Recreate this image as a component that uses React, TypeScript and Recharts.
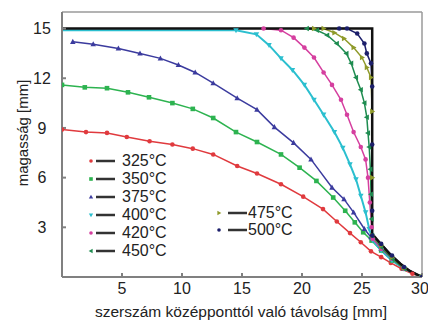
import React from "react";
import { LineChart, Line, XAxis, YAxis, ReferenceLine, Label } from "recharts";

const FONT = '"Liberation Sans", Arial, Helvetica, sans-serif';

type Pt = [number, number];

// [távolság mm, magasság mm]
const t325: Pt[] = [
  [0, 8.9], [2, 8.75], [3.75, 8.7], [5.4, 8.45], [7.3, 8.2], [9.2, 8.0], [10.9, 7.75],
  [12.6, 7.4], [14.6, 6.7], [16.25, 6.25], [18.25, 5.6], [20.1, 4.85], [21.75, 4.1],
  [22.9, 3.35], [24, 2.65], [24.9, 2.1], [25.75, 1.55], [26.6, 1.2], [27.4, 0.85],
  [28.3, 0.5], [29.2, 0.2], [30, 0],
];
const t350: Pt[] = [
  [0, 11.6], [1.9, 11.45], [3.75, 11.4], [5.5, 11.15], [7.25, 10.85], [9.2, 10.5],
  [10.9, 10.15], [12.6, 9.6], [14.5, 8.75], [16.25, 8.15], [18.25, 7.4], [19.8, 6.6],
  [21.2, 5.8], [22.6, 4.8], [23.6, 4.0], [24.4, 3.3], [25.1, 2.7], [25.8, 2.2],
  [26.6, 1.6], [27.5, 1.0], [28.5, 0.5], [30, 0],
];
const t375: Pt[] = [
  [0.9, 14.2], [2.6, 14.05], [4.7, 13.8], [6.5, 13.5], [8.2, 13.2], [9.7, 12.8],
  [11.1, 12.35], [12.6, 11.7], [14.6, 10.8], [16.25, 10.1], [17.7, 9.05], [19.3, 8.1],
  [20.75, 7.1], [22.5, 5.4], [23.5, 4.7], [24.3, 3.9], [25.2, 2.9], [25.75, 2.4],
  [26.6, 1.7], [27.5, 1.1], [28.5, 0.5], [30, 0],
];
const t400: Pt[] = [
  [0, 14.9], [14.5, 14.9], [16.2, 14.65], [17.25, 14.0], [18.25, 13.2], [19.2, 12.5],
  [20.2, 11.6], [21, 10.7], [21.8, 9.8], [22.7, 8.75], [23.4, 7.8], [24.0, 6.8],
  [24.5, 5.9], [24.9, 4.9], [25.3, 3.9], [25.6, 2.9], [25.9, 2.2], [26.6, 1.6],
  [27.5, 1.0], [28.5, 0.5], [30, 0],
];
const t420: Pt[] = [
  [16.8, 15], [18.25, 14.9], [19.3, 14.45], [20.2, 13.85], [21, 13.25], [21.8, 12.35],
  [22.5, 11.6], [23.25, 10.7], [23.75, 9.8], [24.3, 8.75], [24.9, 7.85], [25.3, 7.1],
  [25.5, 6.0], [25.65, 4.5], [25.8, 3.0], [25.9, 2.3], [26.6, 1.7], [27.5, 1.1],
  [28.5, 0.5], [30, 0],
];
const t450: Pt[] = [
  [20.4, 15], [21.25, 14.9], [22.1, 14.6], [22.9, 14.1], [23.7, 13.5], [24.1, 12.9],
  [24.5, 12.05], [24.9, 11.3], [25.2, 10.5], [25.4, 9.65], [25.5, 8.7], [25.6, 7.85],
  [25.7, 6.5], [25.75, 5.0], [25.8, 3.5], [25.85, 2.5], [26.6, 1.8], [27.5, 1.1],
  [28.5, 0.5], [30, 0],
];
const t475: Pt[] = [
  [21, 15], [21.8, 15], [22.7, 14.75], [23.5, 14.4], [24.3, 13.85], [25, 13.25],
  [25.4, 12.65], [25.75, 12.05], [25.85, 10], [25.85, 6], [25.85, 2.5], [26.6, 1.9],
  [27.5, 1.2], [28.5, 0.55], [30, 0],
];
const t500: Pt[] = [
  [23.1, 15], [23.75, 15], [24.6, 14.7], [25.2, 14.1], [25.4, 13.5], [25.75, 12.9],
  [25.85, 11.5], [25.85, 8], [25.85, 4], [25.85, 2.5], [26.6, 2.0], [27.5, 1.3],
  [28.5, 0.6], [30, 0],
];
// szerszám kontúr
const tool: Pt[] = [
  [0, 15], [25.85, 15], [25.85, 2.6], [26.5, 2.05], [27.3, 1.4], [28.2, 0.8], [29, 0.35], [30, 0],
];

const xTicks = [5, 10, 15, 20, 25, 30];
const yTicks = [3, 6, 9, 12, 15];

type Shape = "circle" | "square" | "up" | "down" | "left" | "right";

const SERIES: { name: string; pts: Pt[]; color: string; shape: Shape; skipFirst?: boolean }[] = [
  { name: "325°C", pts: t325, color: "#e03a3e", shape: "circle" },
  { name: "350°C", pts: t350, color: "#2db350", shape: "square" },
  { name: "375°C", pts: t375, color: "#3b3b9e", shape: "up" },
  { name: "400°C", pts: t400, color: "#2bbfcf", shape: "down", skipFirst: true },
  { name: "420°C", pts: t420, color: "#d53f9f", shape: "circle" },
  { name: "450°C", pts: t450, color: "#1e8c50", shape: "left" },
  { name: "475°C", pts: t475, color: "#8f9a2a", shape: "right" },
  { name: "500°C", pts: t500, color: "#1c1f6b", shape: "circle" },
];

const toRows = (pts: Pt[]) => pts.map(([x, y]) => ({ x, y }));

function Marker({ shape, cx, cy, r, color }: { shape: Shape; cx: number; cy: number; r: number; color: string }) {
  switch (shape) {
    case "circle":
      return <circle cx={cx} cy={cy} r={r} fill={color} />;
    case "square":
      return <rect x={cx - r} y={cy - r} width={2 * r} height={2 * r} fill={color} />;
    case "up":
      return <polygon points={`${cx},${cy - r * 1.3} ${cx - r * 1.2},${cy + r * 0.9} ${cx + r * 1.2},${cy + r * 0.9}`} fill={color} />;
    case "down":
      return <polygon points={`${cx},${cy + r * 1.3} ${cx - r * 1.2},${cy - r * 0.9} ${cx + r * 1.2},${cy - r * 0.9}`} fill={color} />;
    case "left":
      return <polygon points={`${cx - r * 1.3},${cy} ${cx + r * 0.9},${cy - r * 1.2} ${cx + r * 0.9},${cy + r * 1.2}`} fill={color} />;
    default:
      return <polygon points={`${cx + r * 1.3},${cy} ${cx - r * 0.9},${cy - r * 1.2} ${cx - r * 0.9},${cy + r * 1.2}`} fill={color} />;
  }
}

function LegendRow({ s, dashFrom, dashTo, width }: { s: (typeof SERIES)[number]; dashFrom: number; dashTo: number; width: number }) {
  return (
    <div style={{ display: "flex", alignItems: "center", height: 18 }}>
      <svg width={width} height={18}>
        <Marker shape={s.shape} cx={5} cy={9} r={1.8} color={s.color} />
        <line x1={dashFrom} x2={dashTo} y1={9} y2={9} stroke="#333" strokeWidth={2.5} />
      </svg>
      <span style={{ fontFamily: FONT, fontSize: 16, color: "#222", lineHeight: "18px" }}>{s.name}</span>
    </div>
  );
}

export default function App() {
  return (
    <div style={{ position: "absolute", left: 0, top: 0, width: 428, height: 320, background: "#fff" }}>
      <LineChart width={428} height={320} margin={{ top: 12, right: 6, bottom: 0, left: 0 }}>
        <XAxis
          type="number"
          dataKey="x"
          domain={[0, 30]}
          ticks={xTicks}
          allowDataOverflow
          height={43}
          tickSize={-4}
          tickMargin={10}
          stroke="#808080"
          strokeWidth={2}
          tick={{ fill: "#222", fontSize: 16, fontFamily: FONT }}
        >
          <Label
            content={() => (
              <text x={241} y={317} textAnchor="middle" fontSize={15.5} fontFamily={FONT} fill="#222">
                szerszám középponttól való távolság [mm]
              </text>
            )}
          />
        </XAxis>
        <YAxis
          type="number"
          dataKey="y"
          domain={[0, 16]}
          ticks={yTicks}
          allowDataOverflow
          width={62}
          tickSize={-4}
          tickMargin={24}
          stroke="#808080"
          strokeWidth={2}
          tick={{ fill: "#222", fontSize: 16, fontFamily: FONT, textAnchor: "middle" }}
        >
          <Label
            content={() => (
              <text
                x={22}
                y={133}
                transform="rotate(-90 22 133)"
                textAnchor="middle"
                dominantBaseline="central"
                fontSize={15}
                fontFamily={FONT}
                fill="#222"
              >
                magasság [mm]
              </text>
            )}
          />
        </YAxis>
        <ReferenceLine y={16} stroke="#9a9a9a" strokeWidth={1.5} />
        <ReferenceLine x={30} stroke="#9a9a9a" strokeWidth={1.5} />
        {SERIES.map((s) => (
          <Line
            key={s.name}
            data={toRows(s.pts)}
            dataKey="y"
            type="linear"
            stroke={s.color}
            strokeWidth={s.skipFirst ? 2 : 1.5}
            isAnimationActive={false}
            dot={(p: any) =>
              s.skipFirst && p.index === 0 ? (
                <g key={p.index} />
              ) : (
                <g key={p.index}>
                  <Marker shape={s.shape} cx={p.cx} cy={p.cy} r={2.3} color={s.color} />
                </g>
              )
            }
            activeDot={false}
          />
        ))}
        <Line
          data={toRows(tool)}
          dataKey="y"
          type="linear"
          stroke="#111"
          strokeWidth={2.5}
          dot={false}
          activeDot={false}
          isAnimationActive={false}
        />
      </LineChart>
      <div style={{ position: "absolute", left: 86, top: 152 }}>
        {SERIES.slice(0, 6).map((s) => (
          <LegendRow key={s.name} s={s} dashFrom={10} dashTo={29} width={36} />
        ))}
      </div>
      <div style={{ position: "absolute", left: 214, top: 205 }}>
        {SERIES.slice(6).map((s) => (
          <div key={s.name} style={{ height: 16.5, display: "flex", alignItems: "center" }}>
            <LegendRow s={s} dashFrom={14} dashTo={33} width={34} />
          </div>
        ))}
      </div>
    </div>
  );
}
